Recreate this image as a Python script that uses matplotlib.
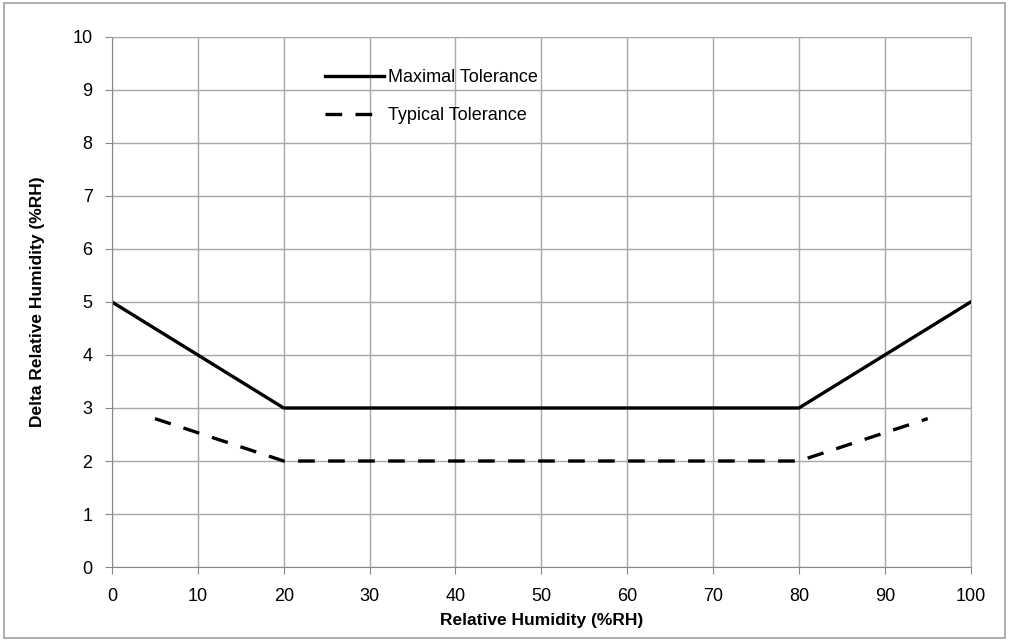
import matplotlib.pyplot as plt
from matplotlib.patches import Rectangle

# data
rh_max = [0, 20, 80, 100]
delta_max = [5, 3, 3, 5]
rh_typ = [5, 20, 80, 95]
delta_typ = [2.8, 2, 2, 2.8]

x_ticks = list(range(0, 101, 10))
y_ticks = list(range(0, 11))

plt.rcParams['font.family'] = ['Liberation Sans', 'DejaVu Sans']

fig = plt.figure(figsize=(10.09, 6.41), dpi=100)
ax = fig.add_axes([0.111, 0.1154, 0.851, 0.827])

# outer frame of the picture
fig.patches.append(Rectangle((0.004, 0.004), 0.992, 0.992, transform=fig.transFigure,
                             fill=False, edgecolor='#a0a0a0', linewidth=1.2))

ax.plot(rh_max, delta_max, color='black', linewidth=2.4, label='Maximal Tolerance')
ax.plot(rh_typ, delta_typ, color='black', linewidth=2.4, dashes=(5, 4),
        label='Typical Tolerance')

ax.set_xlim(0, 100)
ax.set_ylim(0, 10)
ax.set_xticks(x_ticks)
ax.set_yticks(y_ticks)
ax.grid(True, color='#a8a8a8', linewidth=1.0)
ax.set_axisbelow(True)

for side in ['top', 'right']:
    ax.spines[side].set_color('#a8a8a8')
for side in ['left', 'bottom']:
    ax.spines[side].set_color('#888888')
ax.tick_params(axis='both', direction='out', length=5, color='#888888', labelsize=13)
ax.tick_params(axis='y', pad=9)
ax.tick_params(axis='x', pad=10)

ax.set_xlabel('Relative Humidity (%RH)', fontsize=12.5, fontweight='bold', labelpad=6)
ax.set_ylabel('Delta Relative Humidity (%RH)', fontsize=12.5, fontweight='bold', labelpad=20)

ax.legend(loc='upper left', bbox_to_anchor=(0.229, 0.97), frameon=False, fontsize=13,
          handlelength=3.3, handletextpad=0.2, labelspacing=1.15)

fig.savefig('out.png', dpi=100)
